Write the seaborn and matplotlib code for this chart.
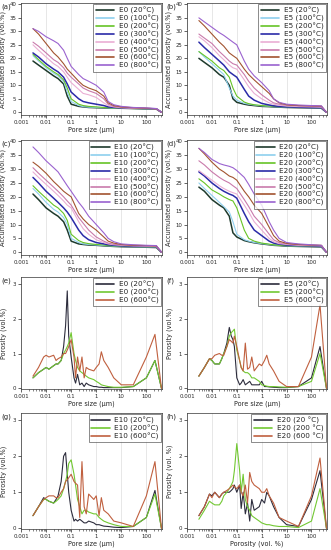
import numpy as np
import pandas as pd
import matplotlib
matplotlib.use("Agg")
import matplotlib.pyplot as plt
import seaborn as sns

sns.set_style("ticks")
plt.rcParams['font.family'] = ['DejaVu Sans']

# ---------------- data ----------------
C_X = [0.003, 0.005, 0.01, 0.02, 0.03, 0.05, 0.07, 0.1, 0.2, 0.3, 0.5, 1, 2, 3, 5, 10, 30, 100, 250, 400]
TEMPS = ["20", "100", "200", "300", "400", "500", "600", "800"]

E0_CUM = {
    "20":  [19, 17.5, 15.5, 13.5, 12.5, 10.5, 6, 3, 2.2, 2, 1.8, 1.7, 1.6, 1.5, 1.5, 1.5, 1.4, 1.3, 1.2, 0],
    "100": [21, 19, 16.5, 14.5, 13.5, 11.5, 7.5, 4, 2.5, 2.1, 1.9, 1.8, 1.7, 1.6, 1.5, 1.5, 1.4, 1.3, 1.2, 0],
    "200": [21.5, 19.5, 17, 15, 14, 12, 9, 5, 3, 2.5, 2.2, 2, 1.8, 1.7, 1.6, 1.5, 1.4, 1.3, 1.2, 0],
    "300": [22, 20.5, 18, 16, 15, 13, 10.5, 7.5, 5, 4, 3.5, 3, 2.5, 2, 1.8, 1.6, 1.5, 1.4, 1.3, 0],
    "400": [25, 23, 20.5, 18, 17, 15, 13, 11, 8.5, 7, 6.5, 5.5, 3.5, 2.5, 2, 1.7, 1.5, 1.4, 1.3, 0],
    "500": [26, 24.5, 22, 19.5, 18.5, 16.5, 14.5, 13, 10.5, 9, 8, 7, 5, 3, 2.2, 1.8, 1.6, 1.5, 1.3, 0],
    "600": [31, 29, 25.5, 22, 20.5, 18, 16, 14.5, 11.5, 10, 9, 8, 6, 3.5, 2.5, 2, 1.7, 1.5, 1.3, 0],
    "800": [31, 30, 28, 26.5, 25.5, 23, 20, 17, 14, 12.5, 11.5, 10, 7.5, 4, 2.8, 2.2, 1.8, 1.6, 1.4, 0],
}
E5_CUM = {
    "20":  [20, 18.5, 16.5, 14, 13, 10, 5, 3.7, 3, 2.7, 2.5, 2.2, 2.1, 2, 1.9, 1.8, 1.7, 1.6, 1.5, 0],
    "100": [22.5, 20.5, 18, 15.5, 14, 9, 6, 4.5, 3.3, 3, 2.7, 2.4, 2.2, 2.1, 2, 1.9, 1.8, 1.7, 1.6, 0],
    "200": [22.5, 21, 19, 16.5, 15.5, 13, 9, 6, 3.8, 3.2, 2.8, 2.5, 2.3, 2.2, 2.1, 2, 1.9, 1.8, 1.7, 0],
    "300": [26, 24, 21.5, 19, 17.5, 15, 14, 13, 8.5, 6, 4.5, 3.3, 2.7, 2.4, 2.2, 2, 1.9, 1.8, 1.7, 0],
    "400": [28, 26.5, 24, 21, 19.5, 17.5, 16.5, 16, 12, 9.5, 7, 5, 3.5, 3, 2.6, 2.3, 2.1, 2, 1.9, 0],
    "500": [29, 27.5, 25.5, 22.5, 21, 19, 18, 17.5, 14, 11.5, 9, 6.5, 4.5, 3.5, 3, 2.6, 2.4, 2.2, 2.1, 0],
    "600": [34, 32, 29, 26, 24.5, 22, 21, 20, 16, 14, 12, 9.5, 7, 5, 3.5, 2.8, 2.5, 2.4, 2.3, 0],
    "800": [35, 33.5, 31.5, 29.5, 28.5, 27, 26, 25, 19, 16, 13.5, 11, 8, 5, 3.7, 3, 2.7, 2.5, 2.4, 0],
}
E10_CUM = {
    "20":  [21, 19, 16, 14, 13, 11, 8, 4, 3, 2.8, 2.6, 2.5, 2.3, 2.2, 2.1, 2, 1.9, 1.8, 1.7, 0],
    "100": [23, 21, 18, 15.5, 14.5, 12.5, 10, 5, 3.5, 3, 2.8, 2.6, 2.4, 2.3, 2.2, 2.1, 2, 1.9, 1.8, 0],
    "200": [24, 22, 19.5, 17, 16, 14, 11.5, 6.5, 4.2, 3.5, 3.1, 2.8, 2.6, 2.4, 2.3, 2.2, 2.1, 2, 1.9, 0],
    "300": [27, 25, 22, 19.5, 18, 16, 14.5, 12.5, 8, 6, 4.5, 3.5, 3, 2.7, 2.5, 2.3, 2.2, 2.1, 2, 0],
    "400": [29, 27, 24.5, 22, 20.5, 18.5, 17, 16, 11, 8.5, 6.5, 4.5, 3.5, 3, 2.7, 2.5, 2.3, 2.2, 2.1, 0],
    "500": [30.5, 28.5, 26, 23.5, 22, 20, 18.5, 17, 12.5, 10.5, 8, 5.5, 4, 3.3, 2.9, 2.6, 2.4, 2.3, 2.2, 0],
    "600": [32.5, 31, 28.5, 25.5, 24, 22, 21, 20, 14, 12, 10, 8, 5.5, 4, 3.3, 2.8, 2.5, 2.4, 2.3, 0],
    "800": [38, 36, 33, 30.5, 29, 26, 24, 22, 18, 16, 13, 10, 7, 5, 3.8, 3, 2.7, 2.5, 2.4, 0],
}
E20_CUM = {
    "20":  [23.5, 22, 19, 17, 16, 13, 7, 5.5, 4.2, 3.8, 3.4, 3, 2.7, 2.5, 2.4, 2.2, 2.1, 2, 1.9, 0],
    "100": [25, 23, 20.5, 18, 16.5, 14.5, 11, 6.5, 4.5, 4, 3.5, 3.1, 2.8, 2.6, 2.5, 2.3, 2.2, 2.1, 2, 0],
    "200": [26.5, 25, 22.5, 21, 20, 19, 18.5, 16, 8, 5, 4, 3.3, 2.9, 2.7, 2.5, 2.4, 2.3, 2.2, 2.1, 0],
    "300": [29, 27.5, 25, 23, 22, 21, 20.5, 19.5, 14, 11, 8, 6, 4, 3.3, 2.9, 2.6, 2.4, 2.3, 2.2, 0],
    "400": [29.5, 28, 26, 24, 23, 22, 21.5, 21, 17, 14.5, 11, 8, 5, 3.8, 3.1, 2.8, 2.5, 2.4, 2.3, 0],
    "500": [33, 31.5, 29, 27, 26, 25, 24, 23, 19, 16.5, 13, 10, 6.5, 4.5, 3.5, 3, 2.7, 2.5, 2.4, 0],
    "600": [37.5, 35.5, 32.5, 30, 29, 27.5, 27, 26, 22, 20, 17, 14, 9, 6, 4, 3.2, 2.8, 2.6, 2.5, 0],
    "800": [37.5, 36, 33.5, 32, 31.5, 31, 30.5, 29.5, 27, 24.5, 21, 17, 11, 8, 5, 3.5, 3, 2.7, 2.5, 0],
}

D_X = [0.003, 0.005, 0.008, 0.01, 0.013, 0.02, 0.025, 0.03, 0.04, 0.05,
       0.06, 0.07, 0.08, 0.1, 0.13, 0.15, 0.18, 0.22, 0.27, 0.33,
       0.4, 0.5, 0.8, 1, 1.3, 1.6, 2, 3, 5, 10,
       30, 100, 220, 400]
D_TEMPS = ["20", "200", "600"]

E0_DIST = {
    "20":  [0.3, 0.45, 0.55, 0.6, 0.55, 0.65, 0.7, 0.7, 0.8, 1.2, 1.8, 2.8, 1.5, 0.9, 0.3, 0.15, 0.4, 0.1, 0.15, 0.05,
            0.15, 0.1, 0.05, 0.05, 0.03, 0.03, 0.02, 0.02, 0.02, 0.02, 0.05, 0.3, 0.8, 0],
    "200": [0.3, 0.45, 0.55, 0.6, 0.55, 0.65, 0.7, 0.7, 0.8, 1.0, 1.1, 1.2, 1.3, 1.6, 1.0, 0.8, 0.6, 0.5, 0.45, 0.4,
            0.35, 0.3, 0.25, 0.2, 0.15, 0.1, 0.08, 0.05, 0.03, 0.03, 0.05, 0.3, 0.8, 0],
    "600": [0.35, 0.6, 0.9, 0.95, 0.9, 0.95, 0.8, 0.85, 0.9, 1.0, 1.0, 1.1, 1.2, 1.4, 0.9, 0.3, 0.9, 0.5, 0.9, 0.3,
            0.6, 0.55, 0.5, 0.6, 0.7, 1.05, 0.8, 0.6, 0.3, 0.1, 0.1, 0.9, 1.55, 0],
}
E5_DIST = {
    "20":  [0.35, 0.6, 0.85, 0.8, 0.7, 0.7, 0.85, 1.0, 1.3, 1.75, 1.5, 1.4, 1.2, 0.3, 0.1, 0.15, 0.25, 0.1, 0.15, 0.2,
            0.1, 0.1, 0.1, 0.2, 0.05, 0.05, 0.04, 0.03, 0.02, 0.02, 0.05, 0.3, 1.2, 0],
    "200": [0.35, 0.6, 0.85, 0.8, 0.7, 0.7, 0.85, 1.0, 1.2, 1.5, 1.6, 1.65, 1.7, 1.1, 0.8, 0.6, 0.5, 0.45, 0.45, 0.4,
            0.3, 0.3, 0.2, 0.1, 0.08, 0.06, 0.05, 0.05, 0.04, 0.03, 0.05, 0.2, 1.0, 0],
    "600": [0.35, 0.6, 0.85, 0.85, 0.95, 1.0, 0.95, 0.95, 1.2, 1.4, 1.35, 1.3, 1.5, 1.2, 0.8, 0.6, 0.5, 1.3, 0.55, 0.6,
            0.9, 0.5, 0.7, 0.65, 0.8, 0.95, 0.7, 0.5, 0.2, 0.05, 0.05, 0.9, 2.4, 0],
}
E10_DIST = {
    "20":  [0.35, 0.6, 0.85, 0.8, 0.75, 0.7, 0.8, 0.9, 1.3, 2.0, 2.1, 1.5, 1.0, 0.5, 0.2, 0.25, 0.2, 0.25, 0.2, 0.15,
            0.15, 0.2, 0.15, 0.1, 0.1, 0.08, 0.06, 0.05, 0.03, 0.02, 0.05, 0.3, 1.05, 0],
    "200": [0.35, 0.6, 0.8, 0.8, 0.75, 0.7, 0.75, 0.8, 0.9, 1.1, 1.3, 1.5, 1.8, 1.9, 1.5, 1.2, 0.8, 0.6, 0.4, 0.5,
            0.5, 0.45, 0.4, 0.4, 0.3, 0.25, 0.2, 0.15, 0.1, 0.05, 0.05, 0.3, 0.95, 0],
    "600": [0.35, 0.6, 0.8, 0.85, 0.9, 0.9, 0.85, 0.85, 1.0, 1.1, 1.3, 1.35, 1.4, 1.5, 1.3, 1.25, 1.2, 0.3, 1.85, 0.6,
            0.4, 0.95, 0.8, 0.9, 0.35, 0.85, 0.5, 0.4, 0.2, 0.15, 0.05, 0.9, 1.85, 0],
}
E20_DIST = {
    "20":  [0.35, 0.6, 0.95, 0.9, 1.0, 0.85, 0.95, 1.0, 1.0, 1.0, 1.05, 1.1, 1.2, 1.0, 1.2, 0.55, 1.0, 0.4, 0.7, 0.2,
            0.8, 0.5, 0.6, 0.8, 0.7, 1.0, 0.9, 0.6, 0.3, 0.1, 0.05, 0.8, 1.6, 0],
    "200": [0.25, 0.5, 0.75, 0.7, 0.65, 0.65, 0.75, 0.9, 1.0, 1.1, 1.2, 1.3, 1.6, 2.35, 1.6, 1.0, 1.5, 0.8, 0.6, 0.5,
            0.35, 0.3, 0.2, 0.15, 0.12, 0.1, 0.1, 0.07, 0.05, 0.05, 0.02, 0.2, 1.1, 0],
    "600": [0.35, 0.6, 0.95, 0.85, 1.0, 0.85, 0.95, 1.0, 1.05, 1.1, 1.15, 1.2, 1.15, 1.1, 1.2, 1.0, 0.9, 1.2, 0.7, 1.55,
            1.3, 1.2, 1.1, 1.0, 1.0, 1.1, 0.9, 0.7, 0.3, 0.2, 0.05, 0.9, 1.95, 0],
}

CUM_COLORS = {"20": "#1e3a2c", "100": "#8ed0ee", "200": "#66c426", "300": "#2b2ba8",
              "400": "#eaaed4", "500": "#c97aab", "600": "#a2532f", "800": "#9a62cf"}
DIST_COLORS = {"20": "#2c2c3c", "200": "#72c832", "600": "#c0603f"}

XTICKS = [0.001, 0.01, 0.1, 1, 10, 100]
XTICKLABELS = ["0.001", "0.01", "0.1", "1", "10", "100"]

# ---------------- figure ----------------
W, H = 331, 550
fig = plt.figure(figsize=(W / 100, H / 100), dpi=100)


def add_ax(l, t, r, b):
    return fig.add_axes([l / W, 1 - b / H, (r - l) / W, (b - t) / H])


COLS = [(21, 162), (187, 327)]
ROWS = [(3, 115), (140, 255), (277, 389), (413, 529)]
TAG_X = [1, 166]

panels = [
    ("(a)", "E0", E0_CUM, "cum", 0, 0),
    ("(b)", "E5", E5_CUM, "cum", 0, 1),
    ("(c)", "E10", E10_CUM, "cum", 1, 0),
    ("(d)", "E20", E20_CUM, "cum", 1, 1),
    ("(e)", "E0", E0_DIST, "dist", 2, 0),
    ("(f)", "E5", E5_DIST, "dist", 2, 1),
    ("(g)", "E10", E10_DIST, "dist", 3, 0),
    ("(h)", "E20", E20_DIST, "dist", 3, 1),
]

FS_TICK = 3.9
FS_LAB = 4.7
FS_LEG = 5.2

for tag, name, data, kind, r, c in panels:
    l, rr = COLS[c]
    t, b = ROWS[r]
    ax = add_ax(l, t, rr, b)
    if kind == "cum":
        temps, xs, colors = TEMPS, C_X, CUM_COLORS
    else:
        temps, xs, colors = D_TEMPS, D_X, DIST_COLORS
    for T in temps:
        if name == "E20" and kind == "dist":
            lab = f"{name} ({T} °C)"
        else:
            lab = f"{name} ({T}°C)"
        lw = 1.1 if T in ("20", "300") and kind == "cum" else 0.8
        sns.lineplot(x=xs, y=data[T], ax=ax, color=colors[T], lw=lw, label=lab)
    ax.set_xscale("log")
    ax.set_xlim(0.001, 420)
    ax.set_xticks(XTICKS)
    ax.set_xticklabels(XTICKLABELS)
    if kind == "cum":
        ax.set_ylim(-1, 40.5)
        ax.set_yticks(range(0, 41, 5))
        ax.set_ylabel("Accumulated porosity (vol.%)", fontsize=FS_LAB, labelpad=2)
    else:
        ax.set_ylim(-0.02, 3.2)
        ax.set_yticks([0, 1, 2, 3])
        ax.set_ylabel("Porosity (vol.%)" if tag != "(h)" else "Porosity (vol. %)",
                      fontsize=FS_LAB, labelpad=4)
    xl = "Pore size (μm)" if tag != "(h)" else "Porosity (vol. %)"
    ax.set_xlabel(xl, fontsize=FS_LAB, labelpad=1.5)
    ax.tick_params(axis="both", which="major", labelsize=FS_TICK, length=2, width=0.5, pad=1.5)
    ax.tick_params(axis="both", which="minor", length=1.2, width=0.4)
    ax.grid(True, axis="x", which="major", color="#dddddd", lw=0.5)
    for s in ax.spines.values():
        s.set_linewidth(0.5)
        s.set_color("#333333")
    leg = ax.legend(loc="upper right", fontsize=FS_LEG, frameon=True, fancybox=False,
                    handlelength=2.6, handletextpad=0.6, borderpad=0.3, labelspacing=0.1,
                    borderaxespad=0.2)
    leg.get_frame().set_edgecolor("#333333")
    leg.get_frame().set_linewidth(0.5)
    for line in leg.get_lines():
        line.set_linewidth(1.2)
    fig.text(TAG_X[c] / W, 1 - (t + 4) / H, tag, fontsize=5.0, ha="left", va="center")

fig.savefig("out.png", dpi=100)
